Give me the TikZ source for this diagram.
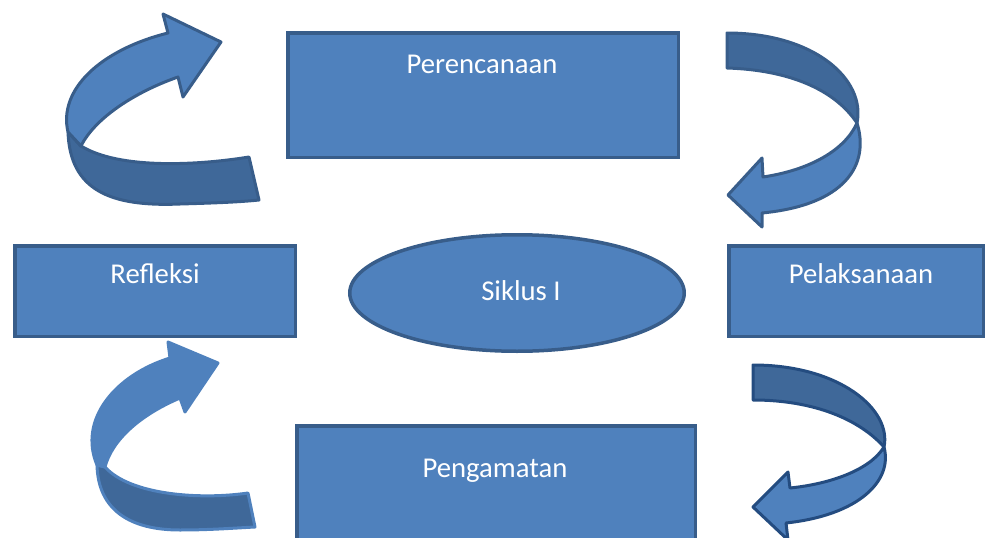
\documentclass[tikz,border=0pt]{standalone}
\usepackage{fontspec}
\setmainfont{Carlito}
\usetikzlibrary{shapes.geometric}
\definecolor{boxfill}{HTML}{4F81BD}
\definecolor{boxline}{HTML}{385D8A}
\definecolor{backfill}{HTML}{3F6899}
\definecolor{navyline}{HTML}{244C80}
\tikzset{
  stage/.style={draw=boxline, fill=boxfill, line width=3.5pt, inner sep=0pt, outer sep=0pt},
  lbl/.style={text=white, anchor=base, inner sep=0pt, font=\fontsize{28.7}{34}\selectfont},
  front/.style={fill=boxfill, draw=#1, line width=3pt, line join=round},
  back/.style={fill=backfill, draw=#1, line width=3pt, line join=round}
}
\begin{document}
\begin{tikzpicture}[x=1pt,y=-1pt]
\useasboundingbox (0,0) rectangle (986,538);
% boxes
\node[stage, minimum width=390.5pt, minimum height=124.5pt] (plan) at (483,95) {};
\node[stage, minimum width=280.5pt, minimum height=90.5pt] (refl) at (155,291) {};
\node[stage, minimum width=254.5pt, minimum height=90.5pt] (exec) at (856,291) {};
\node[stage, minimum width=398.5pt, minimum height=132.5pt] (obs) at (496,492) {};
\node[stage, ellipse, minimum width=334.5pt, minimum height=116.5pt] (cyc) at (517,293) {};
% labels
\node[lbl] (tplan) at (482,73) {Perencanaan};
\node[lbl] (trefl) at (155,283) {Refleksi};
\node[lbl] (texec) at (861,283) {Pelaksanaan};
\node[lbl] (tobs) at (495,477) {Pengamatan};
\node[lbl] (tcyc) at (521,300) {Siklus I};
% arrow top-left
\draw[back=boxline] (68,132) .. controls (70,190) and (110,207) .. (180,204)
  .. controls (215,203) and (240,202) .. (259,200) -- (249,157)
  .. controls (200,165) and (120,170) .. (81,146) -- cycle;
\draw[front=boxline] (68,132) .. controls (58,90) and (100,50) .. (168,33) -- (163,14) -- (221,42)
  -- (183,97) -- (178,77) .. controls (135,92) and (95,118) .. (81,146) -- cycle;
% arrow top-right
\draw[back=boxline] (727,33) .. controls (815,33) and (866,80) .. (857,123)
  .. controls (835,90) and (790,70) .. (727,68) -- cycle;
\draw[front=boxline] (857,123) .. controls (870,165) and (845,205) .. (762,213) -- (762,227)
  -- (728,195) -- (762,158) -- (763,177) .. controls (810,170) and (845,150) .. (857,123) -- cycle;
% arrow bottom-left
\draw[back=boxfill] (97,465) .. controls (98,510) and (130,530) .. (180,530)
  .. controls (210,530) and (235,528) .. (255,527) -- (248,493)
  .. controls (200,500) and (130,495) .. (105,467) -- cycle;
\draw[front=boxfill] (97,465) .. controls (78,420) and (115,375) .. (170,358) -- (168,342) -- (218,363)
  -- (185,412) -- (180,398) .. controls (140,415) and (112,440) .. (105,467) -- cycle;
% arrow bottom-right
\draw[back=navyline] (753,365) .. controls (840,365) and (892,410) .. (884,447)
  .. controls (860,420) and (815,400) .. (753,400) -- cycle;
\draw[front=navyline] (884,447) .. controls (893,480) and (860,515) .. (786,523) -- (788,540)
  -- (753,507) -- (788,472) -- (790,488) .. controls (830,484) and (870,470) .. (884,447) -- cycle;
\end{tikzpicture}
\end{document}
